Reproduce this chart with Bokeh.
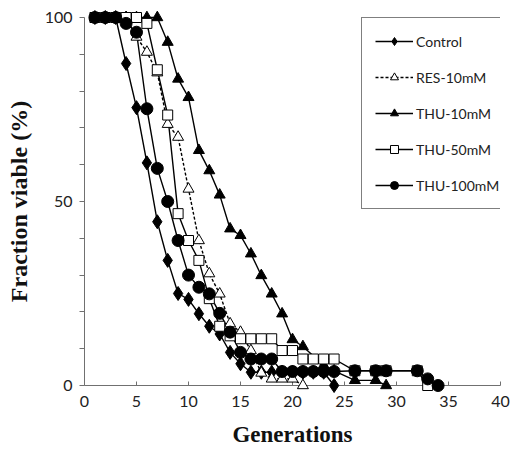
from bokeh.plotting import figure
from bokeh.models import Range1d, FixedTicker
from bokeh.embed import file_html
from bokeh.resources import INLINE

# ---- data (generations vs fraction viable %) ----
x_control = [1, 2, 3, 4, 5, 6, 7, 8, 9, 10, 11, 12, 13, 14, 15, 16, 17, 18, 19, 20, 21, 22, 23, 24]
y_control = [100, 100, 100, 87.5, 75.5, 60.5, 44.5, 34, 25, 23.4, 19.5, 16.1, 14, 9, 5.9, 3.6, 3.6, 3.6, 3.6, 3.6, 3.6, 3.6, 3.6, 0]

x_res10 = [1, 2, 3, 4, 5, 6, 7, 8, 9, 10, 11, 12, 13, 14, 15, 16, 17, 18, 19, 20, 21]
y_res10 = [100, 100, 100, 100, 94.7, 90.6, 85, 71, 67.5, 53.4, 39.4, 30.4, 24.9, 16.8, 14.5, 9.5, 3.4, 1.8, 1.8, 1.8, 0]

x_thu10 = [1, 2, 3, 4, 5, 6, 7, 8, 9, 10, 11, 12, 13, 14, 15, 16, 17, 18, 19, 20, 21, 23, 24, 26, 28, 29]
y_thu10 = [100, 100, 100, 100, 100, 100, 100, 93.3, 83.3, 78.3, 63.9, 58.4, 51.8, 42.6, 40.8, 35.8, 29.9, 24.9, 19.5, 12.5, 10.6, 5.5, 4, 1.4, 1.4, 0]

x_thu50 = [1, 2, 3, 4, 5, 6, 7, 8, 9, 10, 11, 12, 13, 14, 15, 16, 17, 18, 19, 20, 21, 22, 23, 24, 26, 28, 29, 32, 33]
y_thu50 = [100, 100, 100, 100, 100, 98.4, 85.8, 73.5, 46.7, 39.4, 34, 23.6, 16.1, 13.5, 12.7, 12.7, 12.7, 12.7, 9.5, 9.5, 7.2, 7.2, 7.2, 7.2, 4, 4, 4, 4, 0]

x_thu100 = [1, 2, 3, 4, 5, 6, 7, 8, 9, 10, 11, 12, 13, 14, 15, 16, 17, 18, 19, 20, 21, 22, 23, 24, 26, 28, 29, 32, 33, 34]
y_thu100 = [100, 100, 100, 98.4, 96, 75.2, 59, 50, 39.4, 30, 26.7, 24.9, 19.6, 14.5, 9, 7.2, 7.2, 7.2, 3.8, 3.8, 3.8, 3.8, 3.8, 3.8, 4, 4, 4, 4, 1.8, 0]

x_ticks = [0, 5, 10, 15, 20, 25, 30, 35, 40]
y_ticks = [0, 50, 100]
y_minor = [10, 20, 30, 40, 60, 70, 80, 90]

labels = ["Control", "RES-10mM", "THU-10mM", "THU-50mM", "THU-100mM"]

TICK_FONT = "Lato"
TITLE_FONT = "Liberation Serif"
AXIS_COLOR = "#707070"

p = figure(width=526, height=454, output_backend="svg", toolbar_location=None,
           x_range=Range1d(0, 40), y_range=Range1d(0, 100),
           min_border_left=84, min_border_right=26, min_border_top=17, min_border_bottom=69)
p.outline_line_color = None
p.xgrid.visible = False
p.ygrid.visible = False

# x axis
xa = p.xaxis[0]
xa.ticker = FixedTicker(ticks=x_ticks)
xa.major_tick_in = 4
xa.major_tick_out = 0
xa.minor_tick_line_color = None
xa.axis_line_color = AXIS_COLOR
xa.major_tick_line_color = AXIS_COLOR
xa.major_label_text_font = TICK_FONT
xa.major_label_text_font_size = "16px"
xa.major_label_text_color = "#222222"
xa.major_label_standoff = 10
xa.axis_label = "Generations"
xa.axis_label_text_font = TITLE_FONT
xa.axis_label_text_font_style = "bold"
xa.axis_label_text_font_size = "23px"
xa.axis_label_text_color = "#111111"
xa.axis_label_standoff = 12

# y axis
ya = p.yaxis[0]
ya.ticker = FixedTicker(ticks=y_ticks, minor_ticks=y_minor)
ya.major_tick_in = 0
ya.major_tick_out = 5
ya.minor_tick_in = 0
ya.minor_tick_out = 5
ya.axis_line_color = AXIS_COLOR
ya.major_tick_line_color = AXIS_COLOR
ya.minor_tick_line_color = AXIS_COLOR
ya.major_label_text_font = TICK_FONT
ya.major_label_text_font_size = "16px"
ya.major_label_text_color = "#222222"
ya.major_label_standoff = 7
ya.axis_label = "Fraction viable (%)"
ya.axis_label_text_font = TITLE_FONT
ya.axis_label_text_font_style = "bold"
ya.axis_label_text_font_size = "24px"
ya.axis_label_text_color = "#111111"
ya.axis_label_standoff = 10

LW = 1.4
series = [
    (x_control, y_control, "diamond", 14, "black", "solid", labels[0]),
    (x_res10, y_res10, "triangle", 11, "white", "3 2", labels[1]),
    (x_thu10, y_thu10, "triangle", 11, "black", "solid", labels[2]),
    (x_thu50, y_thu50, "square", 10, "white", "solid", labels[3]),
    (x_thu100, y_thu100, "circle", 12, "black", "solid", labels[4]),
]

for xs, ys, marker, size, fill, dash, lab in series:
    p.line(xs, ys, line_color="black", line_width=LW, line_dash=dash,
           legend_label=lab, level="overlay")
for xs, ys, marker, size, fill, dash, lab in series:
    p.scatter(xs, ys, marker=marker, size=size, fill_color=fill,
              line_color="black", line_width=1, legend_label=lab, level="overlay")

lg = p.legend[0]
lg.location = (277, 176)
lg.border_line_color = "black"
lg.border_line_width = 1
lg.background_fill_color = "white"
lg.background_fill_alpha = 1
lg.label_text_font = TICK_FONT
lg.label_text_font_size = "14px"
lg.label_text_color = "#222222"
lg.padding = 13
lg.spacing = 16
lg.glyph_width = 38
lg.glyph_height = 20
lg.label_height = 20
lg.label_standoff = 3
lg.margin = 0

open("out.html", "w").write(file_html(p, INLINE))
